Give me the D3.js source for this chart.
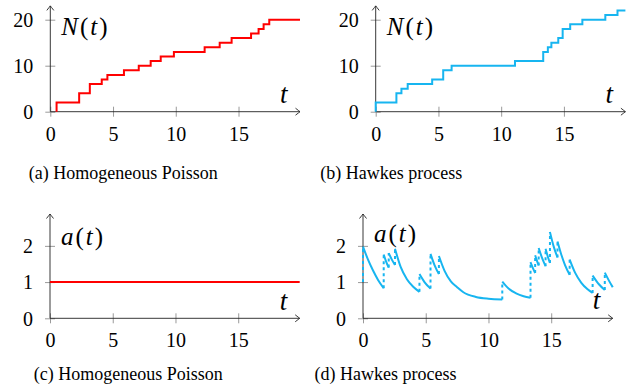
<!DOCTYPE html>
<html>
<head>
<meta charset="utf-8">
<script src="https://cdn.jsdelivr.net/npm/d3@7"></script>
<style>
  html, body { margin: 0; padding: 0; background: #fff; }
</style>
</head>
<body>
<div id="chart"></div>
<script>
// Event counts
const poissonTimes = [0.5, 0.5, 2.3, 3.15, 4.1, 4.55, 5.87, 7.05, 8.0, 8.8, 9.85, 12.3, 13.5, 14.45, 16.0, 16.6, 17.0, 17.45, 19.9];
const poissonCounts = [0, 2, 4, 6, 7, 8, 9, 10, 11, 12, 13, 14, 15, 16, 17, 18, 19, 20, 20];

const hawkesTimes = [0, 0, 1.65, 2.05, 2.55, 4.5, 5.38, 6.05, 11.1, 13.35, 13.72, 14.0, 14.55, 14.9, 15.5, 16.47, 18.3, 19.27, 19.9];
const hawkesCounts = [0, 2, 4, 5, 6, 7, 9, 10, 11, 13, 14, 15, 16, 18, 19, 20, 21, 22, 22];

// Intensity
const poissonRate = 1;
const poissonRateSpan = [0, 19.9];

const hawkesStartLevel = 1.0;
const hawkesIntensitySegments = [
  [[0, 1.98], [0.4, 1.62], [0.8, 1.32], [1.2, 1.06], [1.65, 0.83]],
  [[1.65, 1.76], [1.85, 1.56], [2.05, 1.40]],
  [[2.05, 1.80], [2.3, 1.62], [2.55, 1.47]],
  [[2.55, 1.92], [3.0, 1.42], [3.5, 1.08], [4.0, 0.87], [4.5, 0.73]],
  [[4.5, 1.22], [4.9, 1.0], [5.38, 0.82]],
  [[5.38, 1.78], [5.7, 1.47], [6.05, 1.22]],
  [[6.05, 1.72], [6.5, 1.31], [7, 1.02], [7.5, 0.86], [8, 0.72], [9, 0.59], [10, 0.54], [11.1, 0.52]],
  [[11.1, 1.01], [11.6, 0.82], [12.2, 0.69], [12.8, 0.61], [13.35, 0.57]],
  [[13.35, 1.55], [13.55, 1.38], [13.72, 1.25]],
  [[13.72, 1.74], [13.88, 1.57], [14.0, 1.46]],
  [[14.0, 1.94], [14.3, 1.64], [14.55, 1.44]],
  [[14.55, 1.92], [14.75, 1.68], [14.9, 1.53]],
  [[14.9, 2.38], [15.2, 1.98], [15.5, 1.68]],
  [[15.5, 2.12], [15.8, 1.76], [16.1, 1.47], [16.47, 1.20]],
  [[16.47, 1.62], [16.9, 1.26], [17.4, 0.98], [17.9, 0.80], [18.3, 0.70]],
  [[18.3, 1.18], [18.8, 0.94], [19.27, 0.78]],
  [[19.27, 1.26], [19.6, 1.04], [19.9, 0.86]]
];

// Ticks and labels
const xTicks = [0, 5, 10, 15];
const countTicks = [0, 10, 20];
const rateTicks = [0, 1, 2];
const captions = ['(a) Homogeneous Poisson', '(b) Hawkes process', '(c) Homogeneous Poisson', '(d) Hawkes process'];

const RED = '#ff0000';
const BLUE = '#17b5f0';
const FONT = 'Liberation Serif';

const svg = d3.select('#chart').append('svg')
  .attr('width', 636)
  .attr('height', 391);

svg.append('defs').append('marker')
  .attr('id', 'arrow')
  .attr('viewBox', '-6 -5 8 10')
  .attr('refX', 0).attr('refY', 0)
  .attr('markerWidth', 8).attr('markerHeight', 10)
  .attr('markerUnits', 'userSpaceOnUse')
  .attr('orient', 'auto')
  .append('path')
  .attr('d', 'M-4.5,-3.5 Q-1,-0.8 0,0 Q-1,0.8 -4.5,3.5')
  .attr('fill', 'none')
  .attr('stroke', '#222')
  .attr('stroke-width', 0.9);

function drawAxes(g, x, y, yTicks, yLabel) {
  const x0 = x(0), y0 = y(0);
  const xEnd = x.range()[1], yEnd = y.range()[1];

  // ticks through the d3 axes, tick lines pushed across the axis line
  const xAxis = g.append('g')
    .attr('transform', `translate(0, ${y0})`)
    .call(d3.axisBottom(x).tickValues(xTicks).tickFormat(d3.format('d')).tickSize(0).tickPadding(0));
  xAxis.attr('font-family', FONT).attr('font-size', 20);
  xAxis.select('.domain').remove();
  xAxis.selectAll('.tick line').attr('y1', -5).attr('y2', 5).attr('stroke', '#9a9a9a').attr('stroke-width', 1);
  xAxis.selectAll('.tick text')
    .attr('y', 29).attr('dy', null)
    .attr('fill', '#000');

  const yAxis = g.append('g')
    .attr('transform', `translate(${x0}, 0)`)
    .call(d3.axisLeft(y).tickValues(yTicks).tickFormat(d3.format('d')).tickSize(0).tickPadding(0));
  yAxis.attr('font-family', FONT).attr('font-size', 20);
  yAxis.select('.domain').remove();
  yAxis.selectAll('.tick line').attr('x1', -5).attr('x2', 5).attr('stroke', '#9a9a9a').attr('stroke-width', 1);
  yAxis.selectAll('.tick text')
    .attr('x', -17).attr('dy', 6.7)
    .attr('text-anchor', 'end')
    .attr('fill', '#000');

  g.append('line')
    .attr('x1', x0).attr('y1', y0).attr('x2', xEnd).attr('y2', y0)
    .attr('stroke', '#222').attr('stroke-width', 0.9)
    .attr('marker-end', 'url(#arrow)');
  g.append('line')
    .attr('x1', x0).attr('y1', y0).attr('x2', x0).attr('y2', yEnd)
    .attr('stroke', '#222').attr('stroke-width', 0.9)
    .attr('marker-end', 'url(#arrow)');

  // axis labels
  const lab = g.append('text')
    .attr('x', x0 + 11).attr('y', yLabel.baseline)
    .attr('font-family', FONT)
    .attr('font-size', 25)
    .attr('letter-spacing', 2);
  lab.append('tspan').attr('font-style', 'italic').text(yLabel.name);
  lab.append('tspan').text('(');
  lab.append('tspan').attr('font-style', 'italic').text('t');
  lab.append('tspan').text(')');

  g.append('text')
    .attr('x', xEnd - 20).attr('y', yLabel.tBaseline)
    .attr('font-family', FONT)
    .attr('font-size', 27).attr('font-style', 'italic')
    .text('t');
}

function drawSteps(g, x, y, times, counts, color) {
  const pts = times.map((t, i) => [t, counts[i]]);
  g.append('path')
    .datum(pts)
    .attr('fill', 'none')
    .attr('stroke', color)
    .attr('stroke-width', 2)
    .attr('d', d3.line()
      .x(d => x(d[0]))
      .y(d => y(d[1]))
      .curve(d3.curveStepAfter));
}

// Scales (layout)
const xA = d3.scaleLinear().domain([0, 19.9]).range([50.3, 300.0]);
const xB = d3.scaleLinear().domain([0, 19.9]).range([375.7, 625.4]);
const xC = d3.scaleLinear().domain([0, 19.9]).range([50.0, 299.7]);
const xD = d3.scaleLinear().domain([0, 19.9]).range([363.0, 612.7]);
const yTop = d3.scaleLinear().domain([0, 23]).range([111.7, 5.9]);
const yBot = d3.scaleLinear().domain([0, 2.88]).range([318.3, 214.0]);

// (a)
const gA = svg.append('g');
drawAxes(gA, xA, yTop, countTicks, { name: 'N', baseline: 35, tBaseline: 103 });
drawSteps(gA, xA, yTop, poissonTimes, poissonCounts, RED);

// (b)
const gB = svg.append('g');
drawAxes(gB, xB, yTop, countTicks, { name: 'N', baseline: 35, tBaseline: 103 });
drawSteps(gB, xB, yTop, hawkesTimes, hawkesCounts, BLUE);

// (c)
const gC = svg.append('g');
drawAxes(gC, xC, yBot, rateTicks, { name: 'a', baseline: 245, tBaseline: 310 });
gC.append('line')
  .attr('x1', xC(poissonRateSpan[0])).attr('y1', yBot(poissonRate))
  .attr('x2', xC(poissonRateSpan[1])).attr('y2', yBot(poissonRate))
  .attr('stroke', RED).attr('stroke-width', 2);

// (d)
const gD = svg.append('g');
drawAxes(gD, xD, yBot, rateTicks, { name: 'a', baseline: 241.7, tBaseline: 309 });
const seg = d3.line()
  .x(d => xD(d[0]))
  .y(d => yBot(d[1]))
  .curve(d3.curveMonotoneX);
hawkesIntensitySegments.forEach((s, i) => {
  const prev = i === 0 ? hawkesStartLevel : hawkesIntensitySegments[i - 1][hawkesIntensitySegments[i - 1].length - 1][1];
  gD.append('line')
    .attr('x1', xD(s[0][0])).attr('x2', xD(s[0][0]))
    .attr('y1', yBot(prev)).attr('y2', yBot(s[0][1]))
    .attr('stroke', BLUE).attr('stroke-width', 2)
    .attr('stroke-dasharray', '3,3');
  gD.append('path')
    .datum(s)
    .attr('fill', 'none')
    .attr('stroke', BLUE)
    .attr('stroke-width', 2)
    .attr('d', seg);
});

// captions
const capPos = [[123.3, 179], [391.2, 179], [128.3, 380], [385.5, 380]];
captions.forEach((c, i) => {
  svg.append('text')
    .attr('x', capPos[i][0]).attr('y', capPos[i][1])
    .attr('text-anchor', 'middle')
    .attr('font-family', FONT)
    .attr('font-size', 18)
    .text(c);
});
</script>
</body>
</html>
